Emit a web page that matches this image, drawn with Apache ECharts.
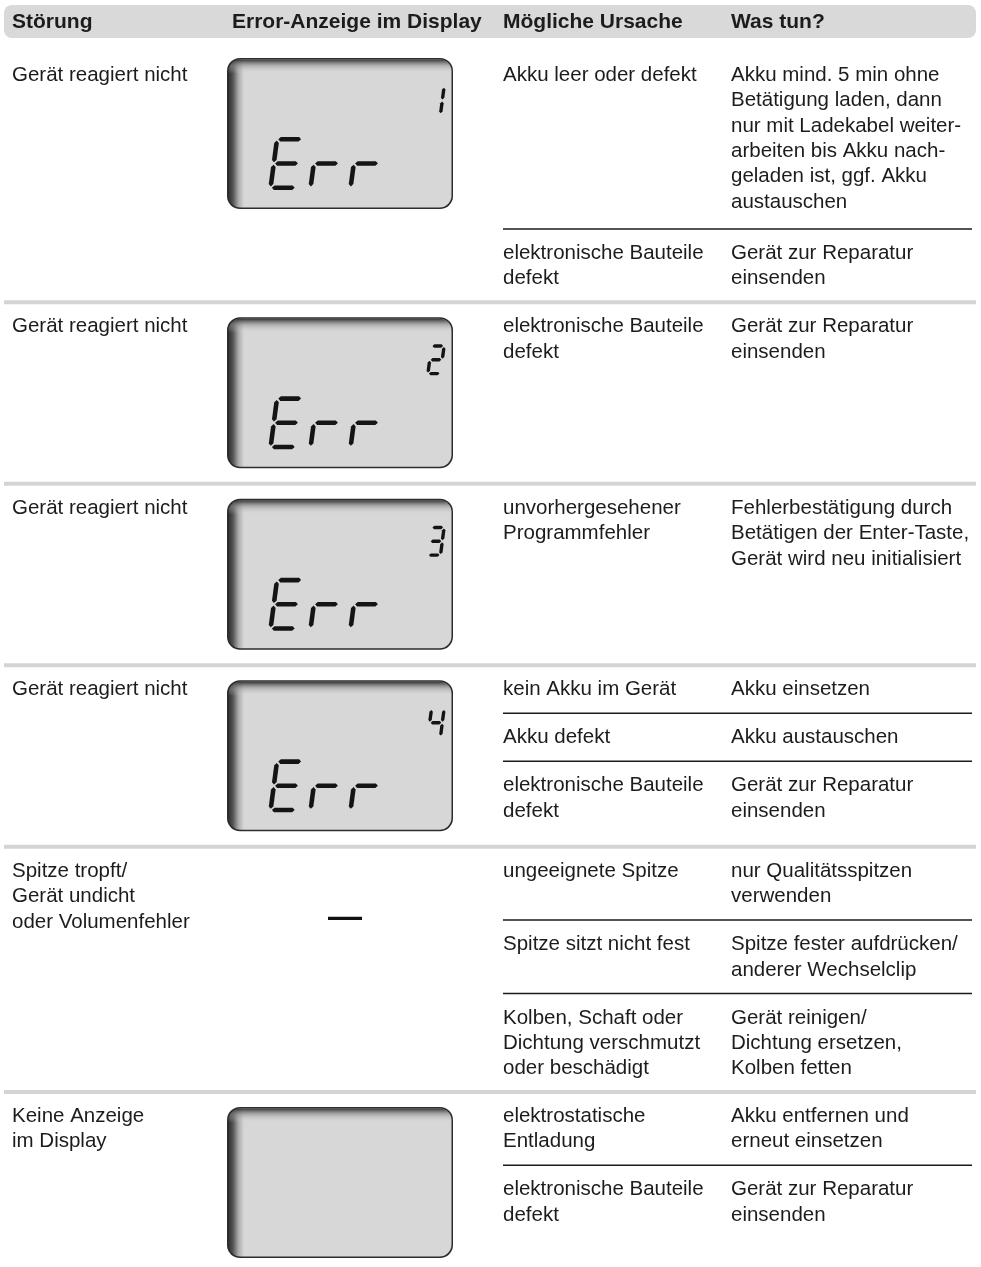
<!DOCTYPE html>
<html>
<head>
<meta charset="utf-8">
<script src="https://cdn.jsdelivr.net/npm/echarts@6/dist/echarts.min.js"></script>
<style>
  html, body { margin: 0; padding: 0; background: #ffffff; }
  #chart { width: 981px; height: 1267px; }
</style>
</head>
<body>
<div id="chart"></div>
<script>
// ---------------- DATA ----------------
const headers = ["Störung", "Error-Anzeige im Display", "Mögliche Ursache", "Was tun?"];

const stoerungen = [
  "Gerät reagiert nicht",
  "Gerät reagiert nicht",
  "Gerät reagiert nicht",
  "Gerät reagiert nicht",
  "Spitze tropft/\nGerät undicht\noder Volumenfehler",
  "Keine Anzeige\nim Display"
];

// "—" = no display shown, "" = blank display, digit = Err code
const anzeigeCodes = ["1", "2", "3", "4", "—", ""];
const lcdText = "Err";

const ursachen = [
  ["Akku leer oder defekt", "elektronische Bauteile\ndefekt"],
  ["elektronische Bauteile\ndefekt"],
  ["unvorhergesehener\nProgrammfehler"],
  ["kein Akku im Gerät", "Akku defekt", "elektronische Bauteile\ndefekt"],
  ["ungeeignete Spitze", "Spitze sitzt nicht fest", "Kolben, Schaft oder\nDichtung verschmutzt\noder beschädigt"],
  ["elektrostatische\nEntladung", "elektronische Bauteile\ndefekt"]
];

const massnahmen = [
  ["Akku mind. 5 min ohne\nBetätigung laden, dann\nnur mit Ladekabel weiter-\narbeiten bis Akku nach-\ngeladen ist, ggf. Akku\naustauschen", "Gerät zur Reparatur\neinsenden"],
  ["Gerät zur Reparatur\neinsenden"],
  ["Fehlerbestätigung durch\nBetätigen der Enter-Taste,\nGerät wird neu initialisiert"],
  ["Akku einsetzen", "Akku austauschen", "Gerät zur Reparatur\neinsenden"],
  ["nur Qualitätsspitzen\nverwenden", "Spitze fester aufdrücken/\nanderer Wechselclip", "Gerät reinigen/\nDichtung ersetzen,\nKolben fetten"],
  ["Akku entfernen und\nerneut einsetzen", "Gerät zur Reparatur\neinsenden"]
];

// seven-segment definitions for the LCD glyphs
const SEGMENTS = { E: "adefg", r: "eg", "1": "bc", "2": "abged", "3": "abgcd", "4": "fgbc" };

// ---------------- LAYOUT ----------------
const L = {
  headerTop: 5, headerH: 33, firstTop: 51,
  topPad: 24.5, lh: 25.3, botPad: 23.5,
  firstCellExtra: 3.5,
  colX: [12, 227, 503, 731],
  lcdW: 226, lcdH: 151, lcdMT: 15, lcdMB: 15.5, lcdMTFirst: 7,
  ruleX1: 503, ruleX2: 972, sepX1: 4, sepX2: 976, sepH: 4,
  font: '"Liberation Sans", Arial, Helvetica, sans-serif',
  fontSize: 20.5, headSize: 21
};
const TEXT_COLOR = "#1c1c1c";

const els = [];

// header bar
els.push({ type: "rect", shape: { x: L.sepX1, y: L.headerTop, width: L.sepX2 - L.sepX1, height: L.headerH, r: 8 },
  style: { fill: "#d9d9d9" } });
headers.forEach((h, k) => {
  els.push({ type: "text", x: L.colX[k] + (k === 1 ? 5 : 0), y: L.headerTop + L.headerH / 2 + 1,
    style: { text: h, fontSize: L.headSize, fontWeight: "bold", fontFamily: L.font, fill: TEXT_COLOR, verticalAlign: "middle" } });
});

function nLines(s) { return s.split("\n").length; }

function textEl(x, top, s) {
  return { type: "text", x: x, y: top + L.topPad - L.lh / 2,
    style: { text: s, fontSize: L.fontSize, fontFamily: L.font, fill: TEXT_COLOR, lineHeight: L.lh, verticalAlign: "top" } };
}

// seven segment glyph
function glyph(ch, x0, y0, w, h, t, slant, gap) {
  const out = [];
  const segs = SEGMENTS[ch] || "";
  const sk = (p) => [x0 + p[0] + slant * (h - p[1]) / h, y0 + p[1]];
  const hor = (yc, x1, x2) => [[x1, yc], [x1 + t / 2, yc - t / 2], [x2 - t / 2, yc - t / 2], [x2, yc], [x2 - t / 2, yc + t / 2], [x1 + t / 2, yc + t / 2]];
  const ver = (xc, y1, y2) => [[xc, y1], [xc + t / 2, y1 + t / 2], [xc + t / 2, y2 - t / 2], [xc, y2], [xc - t / 2, y2 - t / 2], [xc - t / 2, y1 + t / 2]];
  const defs = {
    a: hor(t / 2, t / 2 + gap, w - t / 2 - gap),
    g: hor(h / 2, t / 2 + gap, w - t / 2 - gap),
    d: hor(h - t / 2, t / 2 + gap, w - t / 2 - gap),
    f: ver(t / 2, t / 2 + gap, h / 2 - gap),
    e: ver(t / 2, h / 2 + gap, h - t / 2 - gap),
    b: ver(w - t / 2, t / 2 + gap, h / 2 - gap),
    c: ver(w - t / 2, h / 2 + gap, h - t / 2 - gap)
  };
  for (const s of segs) {
    out.push({ type: "polygon", shape: { points: defs[s].map(sk) }, style: { fill: "#141414" } });
  }
  return out;
}

function lcd(x, y, code) {
  const w = L.lcdW, h = L.lcdH;
  els.push({ type: "rect", shape: { x: x, y: y, width: w, height: h, r: 13 }, style: { fill: "#2c2c2c" } });
  els.push({ type: "rect", shape: { x: x + 1.5, y: y + 1.5, width: w - 3, height: h - 3, r: 12 },
    style: { fill: new echarts.graphic.LinearGradient(0, 0, 1, 0, [
      { offset: 0, color: "#2e2e2e" }, { offset: 0.02, color: "#555555" }, { offset: 0.045, color: "#ababab" },
      { offset: 0.07, color: "#d7d7d7" }, { offset: 1, color: "#d7d7d7" }]) } });
  els.push({ type: "rect", shape: { x: x + 1.5, y: y + 1.5, width: w - 3, height: 14, r: [12, 12, 0, 0] },
    style: { fill: new echarts.graphic.LinearGradient(0, 0, 0, 1, [
      { offset: 0, color: "rgba(45,45,45,0.95)" }, { offset: 0.45, color: "rgba(140,140,140,0.5)" },
      { offset: 1, color: "rgba(215,215,215,0)" }]) } });
  if (code !== "") {
    // big "Err"
    const bw = 30, bh = 53, bt = 4.6, bs = 7, pitch = 40;
    for (let k = 0; k < lcdText.length; k++) {
      glyph(lcdText[k], x + 41 + k * pitch, y + 79, bw, bh, bt, bs, 1.3).forEach(e => els.push(e));
    }
    // small code digit
    const sw = 16, sh = 31, st = 3.4, ss = 4;
    glyph(code, x + 219 - sw - ss, y + 27, sw, sh, st, ss, 1).forEach(e => els.push(e));
  }
}

let cur = L.firstTop;
for (let i = 0; i < stoerungen.length; i++) {
  const top = cur;
  const code = anzeigeCodes[i];
  const hasLcd = code !== "—";
  // sub-row heights from line counts
  const subH = ursachen[i].map((u, j) => {
    const n = Math.max(nLines(u), nLines(massnahmen[i][j]));
    return L.topPad + (n - 1) * L.lh + L.botPad + (i === 0 && j === 0 ? L.firstCellExtra : 0);
  });
  let total = subH.reduce((a, b) => a + b, 0);
  const n1 = nLines(stoerungen[i]);
  let minH = L.topPad + (n1 - 1) * L.lh + L.botPad;
  if (hasLcd) minH = Math.max(minH, (i === 0 ? L.lcdMTFirst : L.lcdMT) + L.lcdH + L.lcdMB);
  if (total < minH) { subH[subH.length - 1] += minH - total; total = minH; }

  // column 1
  els.push(textEl(L.colX[0], top, stoerungen[i]));
  // column 2
  if (hasLcd) {
    lcd(L.colX[1], top + (i === 0 ? L.lcdMTFirst : L.lcdMT), code);
  } else {
    els.push({ type: "text", x: L.colX[1] + L.lcdW / 2 + 5, y: top + 71,
      style: { text: "—", fontSize: 34, fontWeight: "bold", fontFamily: L.font, fill: "#111", align: "center", verticalAlign: "middle" } });
  }
  // columns 3 & 4
  let st = top;
  ursachen[i].forEach((u, j) => {
    if (j > 0) {
      els.push({ type: "line", shape: { x1: L.ruleX1, y1: st, x2: L.ruleX2, y2: st }, style: { stroke: "#1a1a1a", lineWidth: 1.5 } });
    }
    els.push(textEl(L.colX[2], st, u));
    els.push(textEl(L.colX[3], st, massnahmen[i][j]));
    st += subH[j];
  });
  cur = top + total;
  if (i < stoerungen.length - 1) {
    els.push({ type: "rect", shape: { x: L.sepX1, y: cur - L.sepH / 2, width: L.sepX2 - L.sepX1, height: L.sepH },
      style: { fill: "#d4d4d4" } });
  }
}

const chart = echarts.init(document.getElementById("chart"), null, { renderer: "canvas" });
chart.setOption({ backgroundColor: "#ffffff", animation: false, graphic: { elements: els } });
</script>
</body>
</html>
